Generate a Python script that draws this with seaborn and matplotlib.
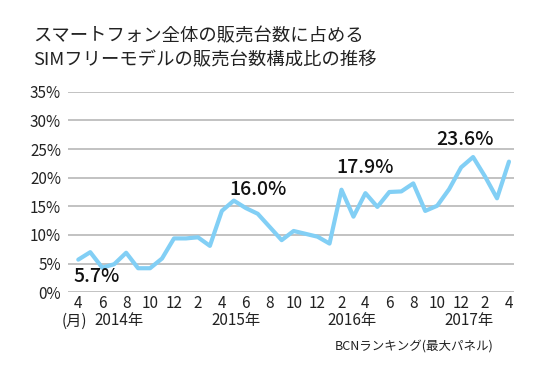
import matplotlib
matplotlib.use("Agg")
import matplotlib.pyplot as plt
import seaborn as sns
import pandas as pd
import matplotlib.transforms as mtransforms

months = ["2014-04","2014-05","2014-06","2014-07","2014-08","2014-09","2014-10","2014-11","2014-12",
          "2015-01","2015-02","2015-03","2015-04","2015-05","2015-06","2015-07","2015-08","2015-09",
          "2015-10","2015-11","2015-12","2016-01","2016-02","2016-03","2016-04","2016-05","2016-06",
          "2016-07","2016-08","2016-09","2016-10","2016-11","2016-12","2017-01","2017-02","2017-03",
          "2017-04"]
share = [5.7, 7.0, 4.3, 4.9, 6.9, 4.2, 4.2, 5.9, 9.4,
         9.4, 9.6, 8.1, 14.2, 16.0, 14.7, 13.7, 11.4, 9.1,
         10.7, 10.2, 9.7, 8.5, 17.9, 13.2, 17.3, 14.9, 17.5,
         17.6, 19.0, 14.2, 15.1, 18.0, 21.8, 23.6, 20.2, 16.4,
         22.8]
month_ticks = ["4","6","8","10","12","2","4","6","8","10","12","2","4","6","8","10","12","2","4"]
year_labels = ["2014年", "2015年", "2016年", "2017年"]
y_ticks = [0, 5, 10, 15, 20, 25, 30, 35]
highlights = {"2014-04": "5.7%", "2015-05": "16.0%", "2016-02": "17.9%", "2017-01": "23.6%"}

sns.set_theme(style="white")
plt.rcParams['font.family'] = ['Noto Sans CJK JP', 'DejaVu Sans']

df = pd.DataFrame({"idx": range(len(months)), "month": months, "share": share})

fig = plt.figure(figsize=(5.5, 3.78), dpi=100)
ax = fig.add_axes([68/550, 1-292.3/378, (514-68)/550, (292.3-91.7)/378])

for v in y_ticks:
    ax.axhline(v, color="#bdbdbd", lw=1.3, zorder=1)

sns.lineplot(data=df, x="idx", y="share", ax=ax, color="#82cff5", lw=3.0, zorder=3)

ax.set_xlim(-0.86, 36.42)
ax.set_ylim(0, 35)
ax.set_yticks(y_ticks)
ax.set_yticklabels([f"{v}%" for v in y_ticks], fontsize=11, color="#222222")
ax.set_xticks(list(range(0, 37, 2)))
ax.set_xticklabels(month_ticks, fontsize=11, color="#222222")
ax.tick_params(axis="both", length=0)
ax.tick_params(axis="x", pad=2)
ax.tick_params(axis="y", pad=5)
for s in ax.spines.values():
    s.set_visible(False)
ax.set_xlabel("")
ax.set_ylabel("")

# highlight labels
offsets = {"2014-04": (1.5, -3.0), "2015-05": (2.0, 2.0), "2016-02": (2.0, 3.8), "2017-01": (-0.7, 3.1)}
for m, txt in highlights.items():
    i = months.index(m)
    dx, dy = offsets[m]
    ax.text(i + dx, share[i] + dy, txt, fontsize=14, fontweight="medium",
            ha="center", va="center", color="#111111", zorder=4)

trans = mtransforms.blended_transform_factory(ax.transData, fig.transFigure)
yl = 1 - 321/378
kw = dict(transform=trans, fontsize=11, ha="center", va="center", color="#222222")
ax.text(-0.35, yl, "(月)", **kw)
ax.text(3.4, yl, year_labels[0], **kw)
ax.text(13.2, yl, year_labels[1], **kw)
ax.text(22.9, yl, year_labels[2], **kw)
ax.text(32.7, yl, year_labels[3], **kw)

fig.text(493/550, 1-346/378, "BCNランキング(最大パネル)", fontsize=9, ha="right", va="center", color="#222222")

fig.text(33/550, 1-36.5/378, "スマートフォン全体の販売台数に占める", fontsize=13.2, ha="left", va="center", color="#222222")
fig.text(33/550, 1-60/378, "SIMフリーモデルの販売台数構成比の推移", fontsize=13.2, ha="left", va="center", color="#222222")

fig.savefig("out.png", dpi=100, facecolor="white")
